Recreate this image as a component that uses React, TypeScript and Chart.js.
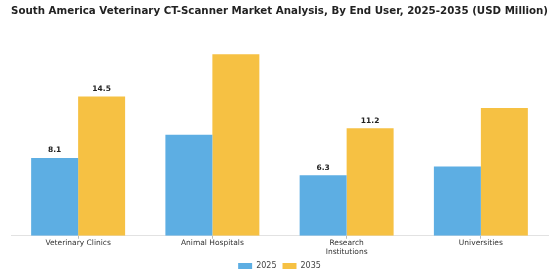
import React, { useEffect, useRef } from "react";
import { Chart, registerables } from "chart.js";

Chart.register(...registerables);

const categories: (string | string[])[] = [
  "Veterinary Clinics",
  "Animal Hospitals",
  ["Research", "Institutions"],
  "Universities",
];
const values2025 = [8.1, 10.5, 6.3, 7.2];
const values2035 = [14.5, 18.9, 11.2, 13.3];
const showLabel2025 = [true, false, true, false];
const showLabel2035 = [true, false, true, false];
const seriesNames = ["2025", "2035"];
const titleText =
  "South America Veterinary CT-Scanner Market Analysis, By End User, 2025-2035 (USD Million)";

const FONT = "'DejaVu Sans', sans-serif";

const valueLabelPlugin = {
  id: "valueLabels",
  afterDatasetsDraw(chart: any) {
    const ctx = chart.ctx;
    const flags = [showLabel2025, showLabel2035];
    ctx.save();
    ctx.font = `bold 7.5px ${FONT}`;
    ctx.fillStyle = "#222";
    ctx.textAlign = "center";
    ctx.textBaseline = "middle";
    chart.data.datasets.forEach((ds: any, di: number) => {
      const meta = chart.getDatasetMeta(di);
      meta.data.forEach((bar: any, i: number) => {
        if (!flags[di][i]) return;
        ctx.fillText(String(ds.data[i]), bar.x, bar.y - 7.5);
      });
    });
    ctx.restore();
  },
};

export default function App() {
  const ref = useRef<HTMLCanvasElement>(null);
  useEffect(() => {
    if (!ref.current) return;
    const chart = new Chart(ref.current, {
      type: "bar",
      data: {
        labels: categories,
        datasets: [
          {
            label: seriesNames[0],
            data: values2025,
            backgroundColor: "#5DAEE3",
            categoryPercentage: 0.7,
            barPercentage: 1.0,
          },
          {
            label: seriesNames[1],
            data: values2035,
            backgroundColor: "#F6C143",
            categoryPercentage: 0.7,
            barPercentage: 1.0,
          },
        ],
      },
      options: {
        animation: false,
        responsive: true,
        maintainAspectRatio: false,
        layout: { padding: { left: 11, right: 12, top: 3, bottom: 0 } },
        plugins: {
          title: {
            display: true,
            text: titleText,
            color: "#222",
            font: { family: FONT, size: 10.5, weight: "bold" },
            padding: { top: 2, bottom: 26 },
          },
          legend: {
            position: "bottom",
            labels: {
              boxWidth: 14,
              boxHeight: 6,
              padding: 6,
              color: "#444",
              font: { family: FONT, size: 8 },
            },
          },
          tooltip: { enabled: false },
        },
        scales: {
          x: {
            grid: {
              display: true,
              offset: false,
              drawOnChartArea: false,
              drawTicks: true,
              tickLength: 3,
              color: "#bbb",
            },
            border: { display: true, color: "#e2e2e2" },
            ticks: {
              color: "#333",
              padding: 0,
              font: { family: FONT, size: 7.5, lineHeight: 1.15 },
              maxRotation: 0,
              autoSkip: false,
            },
          },
          y: {
            display: false,
            min: 0,
            max: 20,
          },
        },
      },
      plugins: [valueLabelPlugin],
    });
    return () => chart.destroy();
  }, []);
  return (
    <div style={{ position: "absolute", left: 0, top: 0, width: 560, height: 280, background: "#fff" }}>
      <canvas ref={ref} />
    </div>
  );
}
